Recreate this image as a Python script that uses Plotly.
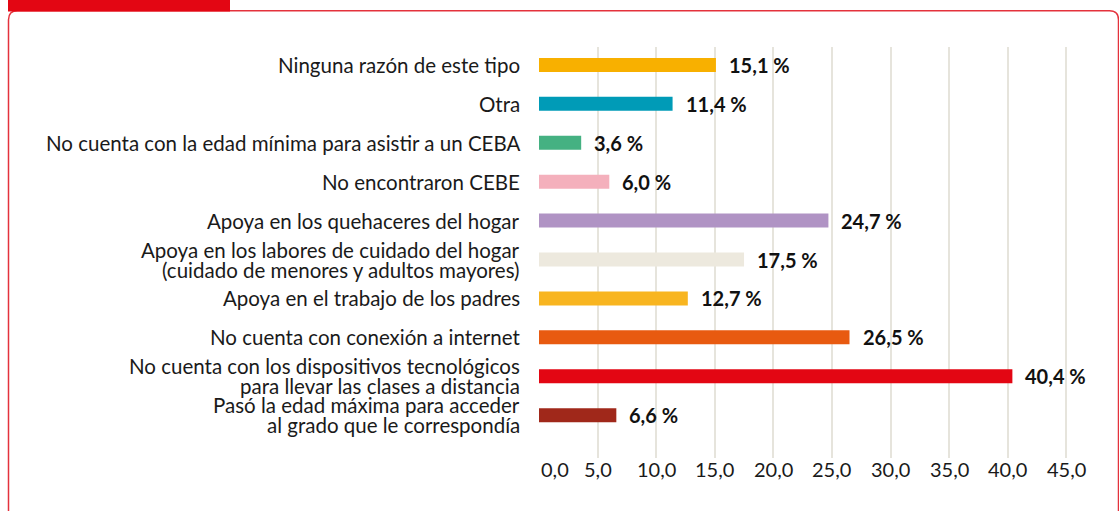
import plotly.graph_objects as go

categories = [
    "Ninguna razón de este tipo",
    "Otra",
    "No cuenta con la edad mínima para asistir a un CEBA",
    "No encontraron CEBE",
    "Apoya en los quehaceres del hogar",
    "Apoya en los labores de cuidado del hogar<br>(cuidado de menores y adultos mayores)",
    "Apoya en el trabajo de los padres",
    "No cuenta con conexión a internet",
    "No cuenta con los dispositivos tecnológicos<br>para llevar las clases a distancia",
    "Pasó la edad máxima para acceder<br>al grado que le correspondía",
]
values = [15.1, 11.4, 3.6, 6.0, 24.7, 17.5, 12.7, 26.5, 40.4, 6.6]
value_labels = ["15,1 %", "11,4 %", "3,6 %", "6,0 %", "24,7 %", "17,5 %", "12,7 %", "26,5 %", "40,4 %", "6,6 %"]
bar_colors = ["#f8b000", "#009bb7", "#45b182", "#f4b0bc", "#b093c4",
              "#ede9de", "#f8b520", "#e85a10", "#e30613", "#a0281a"]
tick_vals = [0, 5, 10, 15, 20, 25, 30, 35, 40, 45]
tick_text = ["0,0", "5,0", "10,0", "15,0", "20,0", "25,0", "30,0", "35,0", "40,0", "45,0"]

W, H = 1119, 511
ML, MR, MT, MB = 539, 41, 47, 53
PW, PH = W - ML - MR, H - MT - MB
FONT = "Lato"
TXT = "#1a1a1a"

def px(x):
    return (x - ML) / PW

def py(y):
    return (H - MB - y) / PH

fig = go.Figure()
fig.add_trace(go.Bar(
    y=categories, x=values, orientation="h",
    marker=dict(color=bar_colors, line=dict(width=0)),
    width=0.36, hoverinfo="skip",
))

# value labels
for c, v, t in zip(categories, values, value_labels):
    fig.add_annotation(x=v, y=c, xref="x", yref="y", text="<b>" + t + "</b>",
                       showarrow=False, xanchor="left", xshift=11,
                       font=dict(family=FONT, size=20, color="#111111"))

# category labels (tight line spacing for two-line labels)
for c in categories:
    lines = c.split("<br>")
    n = len(lines)
    for i, ln in enumerate(lines):
        shift = (n - 1) * 10 - i * 20
        fig.add_annotation(x=0, y=c, xref="paper", yref="y", text=ln,
                           showarrow=False, xanchor="right", xshift=-17, yshift=shift,
                           font=dict(family=FONT, size=20.5, color=TXT))

# x tick labels
for i, (tv, tt) in enumerate(zip(tick_vals, tick_text)):
    fig.add_annotation(x=tv, y=0, xref="x", yref="paper", text=tt,
                       showarrow=False, xanchor="left" if i == 0 else "center",
                       yanchor="top", yshift=3,
                       font=dict(family=FONT, size=20, color=TXT))

# frame
L, R, T, B, r = 8.5, 1118.5, 10.8, 516, 9
path = (f"M {px(L)},{py(B)} L {px(L)},{py(T + r)} Q {px(L)},{py(T)} {px(L + r)},{py(T)} "
        f"L {px(R - r)},{py(T)} Q {px(R)},{py(T)} {px(R)},{py(T + r)} L {px(R)},{py(B)}")
fig.add_shape(type="path", path=path, xref="paper", yref="paper",
              line=dict(color="#e4323c", width=1.5), layer="below")
fig.add_shape(type="rect", xref="paper", yref="paper",
              x0=px(8), x1=px(230), y0=py(11.5), y1=py(-2),
              fillcolor="#e30613", line=dict(width=0))

fig.update_layout(
    width=W, height=H,
    margin=dict(l=ML, r=MR, t=MT, b=MB),
    paper_bgcolor="white", plot_bgcolor="white",
    showlegend=False,
    font=dict(family=FONT, size=20, color=TXT),
)
fig.update_xaxes(range=[0, 46], tickvals=tick_vals, showticklabels=False,
                 showgrid=True, gridcolor="#e6e4dc", gridwidth=2,
                 zeroline=False, showline=False, ticks="")
fig.update_yaxes(range=[10.1, -0.46], showgrid=False, zeroline=False, showline=False,
                 ticks="", showticklabels=False)

fig.write_html("out.html", config={"displayModeBar": False},
               post_script="document.body.style.margin='0px';")
